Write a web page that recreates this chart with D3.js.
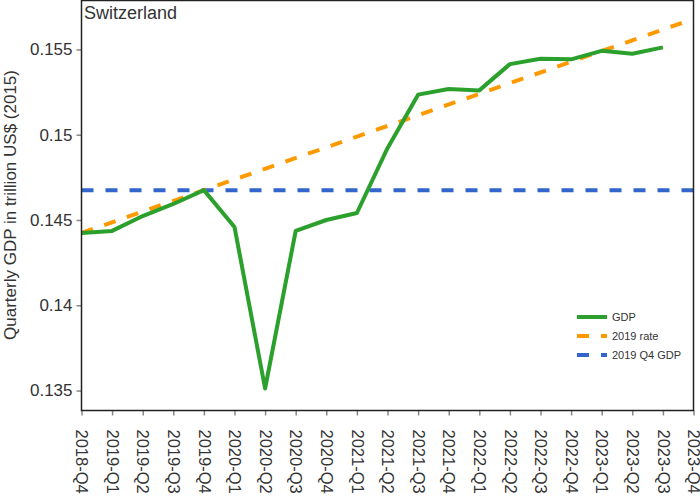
<!DOCTYPE html>
<html>
<head>
<meta charset="utf-8">
<script src="https://cdn.jsdelivr.net/npm/d3@7"></script>
<style>
  body { margin: 0; background: #fff; }
  svg text { font-family: "Liberation Sans", Arial, sans-serif; fill: #333; }
</style>
</head>
<body>
<div id="chart"></div>
<script>
// data
const quarters = ["2018-Q4","2019-Q1","2019-Q2","2019-Q3","2019-Q4","2020-Q1","2020-Q2","2020-Q3","2020-Q4",
  "2021-Q1","2021-Q2","2021-Q3","2021-Q4","2022-Q1","2022-Q2","2022-Q3","2022-Q4","2023-Q1","2023-Q2","2023-Q3","2023-Q4"];
const gdp = [0.14424,0.14436,0.14523,0.14594,0.14675,0.14459,0.13512,0.14436,0.14500,
  0.14541,0.14921,0.15235,0.15268,0.15260,0.15414,0.15446,0.15442,0.15492,0.15475,0.15512];
const rateQuarters = ["2018-Q4","2023-Q4"];
const rateValues = [0.14424,0.15679];
const q4Level = 0.14675;
const yTicks = [0.135,0.14,0.145,0.15,0.155];
const yTickLabels = ["0.135","0.14","0.145","0.15","0.155"];
const legendNames = ["GDP","2019 rate","2019 Q4 GDP"];

const width = 700, height = 500;
const plotLeft = 81.5, plotRight = 693.5, plotTop = 0.5, plotBottom = 410.5;

const svg = d3.select("#chart").append("svg")
  .attr("width", width).attr("height", height);

const x = d3.scalePoint().domain(quarters).range([plotLeft, plotRight]);
const y = d3.scaleLinear().domain([0.13383, 0.15787]).range([plotBottom, plotTop]);

// axes
const xAxis = svg.append("g")
  .attr("transform", `translate(0,${plotBottom})`)
  .call(d3.axisBottom(x).tickSize(5).tickSizeOuter(0));
xAxis.select(".domain").remove();
xAxis.selectAll("line").attr("stroke", "#888").attr("stroke-width", 1.5);
xAxis.selectAll("text")
  .attr("transform", "rotate(90)")
  .attr("x", 19).attr("y", 0).attr("dy", "0.35em")
  .style("text-anchor", "start")
  .style("font-size", "16.5px")
  .style("fill", "#333")
  .style("font-family", "'Liberation Sans', Arial, sans-serif");

const yAxis = svg.append("g")
  .attr("transform", `translate(${plotLeft},0)`)
  .call(d3.axisLeft(y).tickValues(yTicks).tickFormat((d, i) => yTickLabels[i]).tickSize(5).tickSizeOuter(0).tickPadding(4));
yAxis.select(".domain").remove();
yAxis.selectAll("line").attr("stroke", "#888").attr("stroke-width", 1.5);
yAxis.selectAll("text")
  .style("font-size", "17px")
  .style("fill", "#333")
  .style("font-family", "'Liberation Sans', Arial, sans-serif");

// lines
const line = d3.line().x(d => x(d[0])).y(d => y(d[1]));

svg.append("line")
  .attr("x1", plotLeft).attr("x2", plotRight)
  .attr("y1", y(q4Level)).attr("y2", y(q4Level))
  .attr("stroke", "#3366cc").attr("stroke-width", 4)
  .attr("stroke-dasharray", "12,12");

svg.append("path")
  .datum(rateQuarters.map((q, i) => [q, rateValues[i]]))
  .attr("d", line)
  .attr("fill", "none")
  .attr("stroke", "#ff9900").attr("stroke-width", 4)
  .attr("stroke-dasharray", "12,12");

svg.append("path")
  .datum(gdp.map((v, i) => [quarters[i], v]))
  .attr("d", line)
  .attr("fill", "none")
  .attr("stroke", "#2ca02c").attr("stroke-width", 4)
  .attr("stroke-linejoin", "round");

// frame
svg.append("rect")
  .attr("x", plotLeft).attr("y", plotTop)
  .attr("width", plotRight - plotLeft).attr("height", plotBottom - plotTop)
  .attr("fill", "none").attr("stroke", "#222").attr("stroke-width", 1.5);

// title
svg.append("text")
  .attr("x", 84).attr("y", 19)
  .style("font-size", "18px")
  .text("Switzerland");

// y label
svg.append("text")
  .attr("transform", `translate(16,205) rotate(-90)`)
  .attr("text-anchor", "middle")
  .style("font-size", "17px")
  .text("Quarterly GDP in trillion US$ (2015)");

// legend
const legColors = ["#2ca02c","#ff9900","#3366cc"];
const legDash = [null, "12,12", "12,12"];
const leg = svg.append("g").selectAll("g")
  .data(legendNames)
  .join("g")
  .attr("transform", (d, i) => `translate(577,${317 + i * 19})`);
leg.append("line")
  .attr("x1", 0).attr("x2", 30)
  .attr("stroke", (d, i) => legColors[i])
  .attr("stroke-width", 4)
  .attr("stroke-dasharray", (d, i) => legDash[i]);
leg.append("text")
  .attr("x", 35).attr("dy", "0.35em")
  .style("font-size", "11px")
  .text(d => d);
</script>
</body>
</html>
